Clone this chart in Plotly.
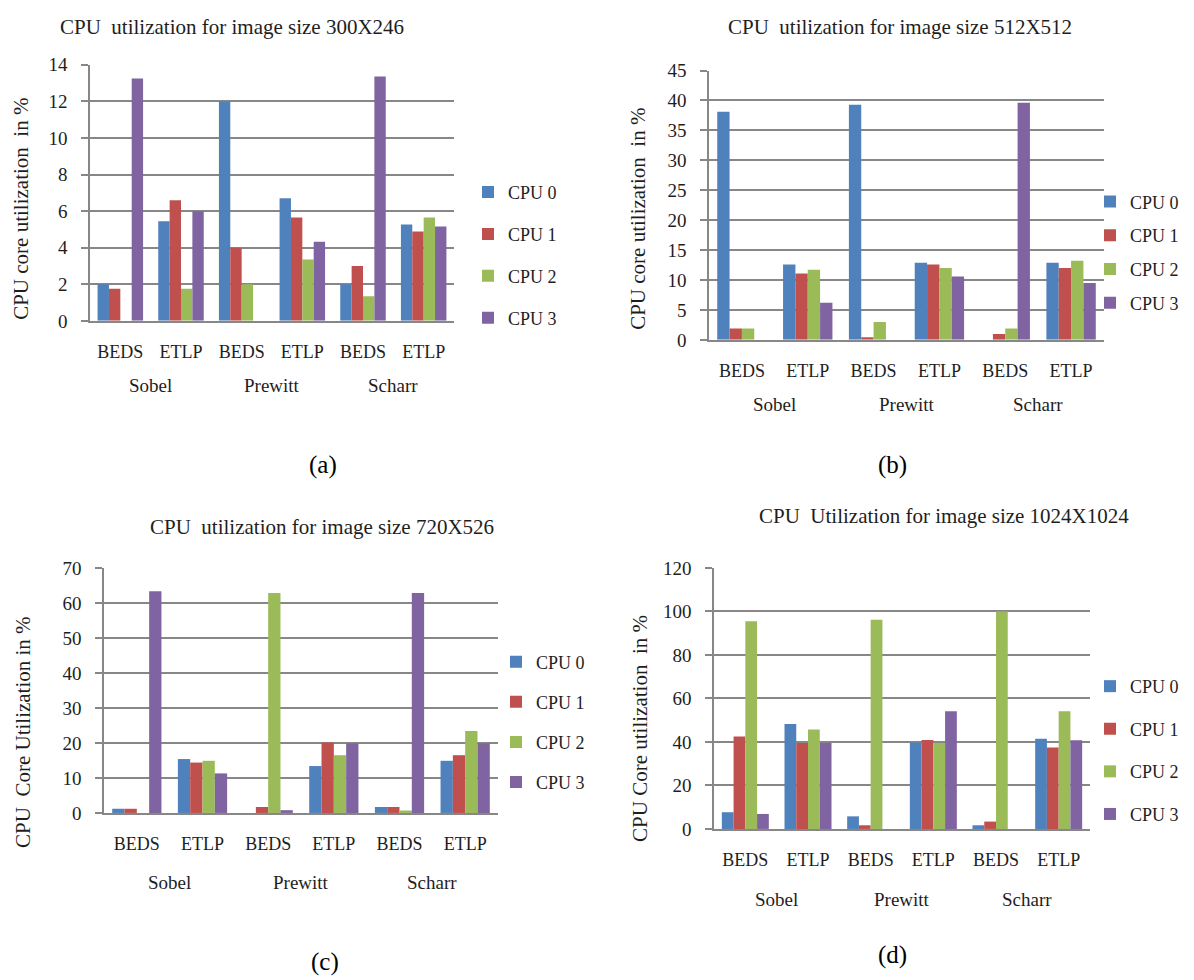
import plotly.graph_objects as go

# ---------------- data ----------------
methods = ["BEDS", "ETLP", "BEDS", "ETLP", "BEDS", "ETLP"]
operators = ["Sobel", "Prewitt", "Scharr"]
cpu_names = ["CPU 0", "CPU 1", "CPU 2", "CPU 3"]
cpu_colors = ["#4F81BD", "#C0504D", "#9BBB59", "#8064A2"]

titles = [
    "CPU  utilization for image size 300X246",
    "CPU  utilization for image size 512X512",
    "CPU  utilization for image size 720X526",
    "CPU  Utilization for image size 1024X1024",
]
ytitles = [
    "CPU core utilization  in %",
    "CPU core utilization  in %",
    "CPU  Core Utilization in %",
    "CPU Core utilization  in %",
]
captions = ["(a)", "(b)", "(c)", "(d)"]

a_cpu0 = [2.0, 5.45, 12.0, 6.7, 2.0, 5.27]
a_cpu1 = [1.75, 6.6, 4.0, 5.65, 3.0, 4.88]
a_cpu2 = [0, 1.75, 2.0, 3.36, 1.35, 5.65]
a_cpu3 = [13.25, 6.0, 0, 4.32, 13.36, 5.16]

b_cpu0 = [38.1, 12.6, 39.3, 12.9, 0, 12.9]
b_cpu1 = [1.9, 11.1, 0.45, 12.6, 1.0, 12.0]
b_cpu2 = [1.9, 11.7, 3.0, 12.0, 1.9, 13.2]
b_cpu3 = [0, 6.2, 0, 10.6, 39.6, 9.5]

c_cpu0 = [1.2, 15.4, 0, 13.4, 1.7, 14.9]
c_cpu1 = [1.2, 14.4, 1.7, 20.1, 1.7, 16.5]
c_cpu2 = [0, 14.9, 62.8, 16.5, 0.7, 23.4]
c_cpu3 = [63.3, 11.3, 0.8, 19.9, 62.8, 19.9]

d_cpu0 = [7.7, 48.3, 5.8, 39.8, 1.7, 41.5]
d_cpu1 = [42.5, 39.5, 1.7, 40.9, 3.4, 37.5]
d_cpu2 = [95.5, 45.7, 96.2, 39.5, 100, 54.1]
d_cpu3 = [6.9, 39.5, 0, 54.1, 0, 40.8]

y_max = [14, 45, 70, 120]
y_dtick = [2, 5, 10, 20]

panels = [
    [a_cpu0, a_cpu1, a_cpu2, a_cpu3],
    [b_cpu0, b_cpu1, b_cpu2, b_cpu3],
    [c_cpu0, c_cpu1, c_cpu2, c_cpu3],
    [d_cpu0, d_cpu1, d_cpu2, d_cpu3],
]

# ---------------- geometry ----------------
OFFX = 8
W, H = 1178, 1000
SY, CY = 0.9788, 18.2          # measured vertical placement of the figure in the photo


def px(X):
    return (X - OFFX) / W


def ypx(T):
    return (T - CY) / SY


def py(T, lo=None):
    v = ypx(T)
    if lo is not None:
        v = max(v, lo)
    return 1 - v / H


# plot area in target screen px: left, right, top(value max), bottom(zero)
boxes = [
    (90, 454, 65, 321),
    (709, 1104, 70.7, 340),
    (104, 498, 568, 813),
    (714, 1090, 568, 829),
]
title_pos = [(232, 17), (900, 20), (322, 527), (944, 516)]
ytitle_pos = [(21, 209), (638, 219), (23, 732), (640, 729)]
caption_pos = [(323, 465), (892, 465), (325, 962), (892, 955)]
group_label_y = [386, 405, 883, 900]
# legend left, centre y, row spacing
legend_pos = [(468, 255.5, 41), (1090, 252.5, 33), (496, 722, 39.3), (1090, 750.5, 41.7)]

FONT = "Liberation Serif"
TXT = "#1e1e1e"
GRID = "#878787"

fig = go.Figure()
x_idx = list(range(len(methods)))

for p, series in enumerate(panels):
    xa = "x" if p == 0 else f"x{p+1}"
    ya = "y" if p == 0 else f"y{p+1}"
    lg = "legend" if p == 0 else f"legend{p+1}"
    for k, vals in enumerate(series):
        fig.add_trace(go.Bar(
            x=x_idx, y=vals, name=cpu_names[k],
            marker=dict(color=cpu_colors[k], line=dict(width=0)),
            xaxis=xa, yaxis=ya, legend=lg, legendgroup=f"{p}-{k}",
        ))

layout = dict(
    width=W, height=H,
    margin=dict(l=0, r=0, t=0, b=0),
    paper_bgcolor="white", plot_bgcolor="white",
    barmode="group", bargap=0.25, bargroupgap=0,
    font=dict(family=FONT, color=TXT, size=18),
    annotations=[],
)

for p in range(4):
    l, r, t, b = boxes[p]
    xkey = "xaxis" if p == 0 else f"xaxis{p+1}"
    ykey = "yaxis" if p == 0 else f"yaxis{p+1}"
    xa_ref = "x" if p == 0 else f"x{p+1}"
    ya_ref = "y" if p == 0 else f"y{p+1}"
    layout[xkey] = dict(
        domain=[px(l), px(r)], anchor=ya_ref,
        range=[-0.5, len(methods) - 0.5],
        tickmode="array", tickvals=x_idx, ticktext=methods,
        showgrid=False, zeroline=False, showline=True,
        linecolor=GRID, linewidth=1.5, ticks="",
        tickfont=dict(family=FONT, size=18, color=TXT),
        ticklabelstandoff=14, fixedrange=True,
    )
    layout[ykey] = dict(
        domain=[py(b), py(t)], anchor=xa_ref,
        range=[0, y_max[p]], dtick=y_dtick[p], tick0=0,
        showgrid=True, gridcolor=GRID, gridwidth=1.6,
        zeroline=False, showline=True, linecolor=GRID, linewidth=1.6,
        ticks="outside", ticklen=7, tickcolor=GRID, tickwidth=1.6,
        tickfont=dict(family=FONT, size=19, color=TXT),
        ticklabelstandoff=10, fixedrange=True,
    )
    lx, ly, spacing = legend_pos[p]
    lkey = "legend" if p == 0 else f"legend{p+1}"
    layout[lkey] = dict(
        x=px(lx), y=py(ly), xanchor="left", yanchor="middle",
        xref="paper", yref="paper",
        bgcolor="rgba(0,0,0,0)", borderwidth=0,
        font=dict(family=FONT, size=18, color=TXT),
        tracegroupgap=max(spacing / SY - 26.4, 0),
    )
    # chart title
    tx, ty = title_pos[p]
    layout["annotations"].append(dict(
        text=titles[p], x=px(tx), y=py(ty, lo=9), xref="paper", yref="paper",
        xanchor="center", yanchor="middle", showarrow=False,
        font=dict(family=FONT, size=21, color=TXT)))
    # y-axis title
    yx, yy = ytitle_pos[p]
    layout["annotations"].append(dict(
        text=ytitles[p], x=px(yx), y=py(yy), xref="paper", yref="paper",
        xanchor="center", yanchor="middle", textangle=-90, showarrow=False,
        font=dict(family=FONT, size=21, color=TXT)))
    # operator group labels
    for g, op in enumerate(operators):
        layout["annotations"].append(dict(
            text=op, x=2 * g + 0.5, y=py(group_label_y[p]),
            xref=xa_ref, yref="paper", xanchor="center", yanchor="middle",
            showarrow=False, font=dict(family=FONT, size=19, color=TXT)))
    # caption
    cx, cy = caption_pos[p]
    layout["annotations"].append(dict(
        text=captions[p], x=px(cx), y=py(cy), xref="paper", yref="paper",
        xanchor="center", yanchor="middle", showarrow=False,
        font=dict(family=FONT, size=25, color="#000000")))

fig.update_layout(**layout)
fig.write_html("out.html")
